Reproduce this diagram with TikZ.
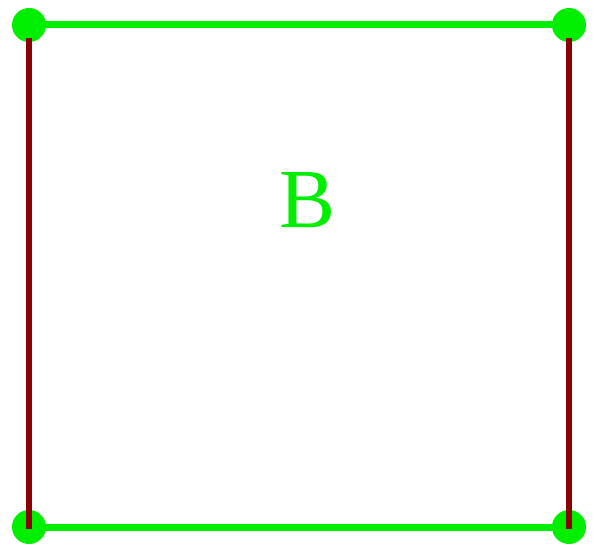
\documentclass[tikz,border=0pt]{standalone}
\usepackage{fontspec}
\setmainfont{Liberation Serif}
\usetikzlibrary{backgrounds}
\definecolor{lime}{RGB}{0,238,0}
\definecolor{darkred}{RGB}{139,0,0}
\begin{document}
\begin{tikzpicture}[x=1pt,y=1pt,
  edge/.style={draw=lime,line width=7pt},
  side/.style={draw=darkred,line width=6pt},
  dot/.style={circle,fill=lime,minimum size=34pt,inner sep=0pt}]
\useasboundingbox (0,0) rectangle (597,550);
\node[dot] (tl) at (29,525) {};
\node[dot] (tr) at (569,525) {};
\node[dot] (bl) at (29,23) {};
\node[dot] (br) at (569,23) {};
\begin{scope}[on background layer]
\draw[edge] (tl.center) -- (tr.center);
\draw[edge] (bl.center) -- (br.center);
\end{scope}
\coordinate (tlr) at (29,512);
\coordinate (trr) at (569,512);
\coordinate (blr) at (29,21);
\coordinate (brr) at (569,21);
\draw[side] (tlr) -- (blr);
\draw[side] (trr) -- (brr);
\node[text=lime,font=\fontsize{84}{90}\selectfont,inner sep=0pt] (B) at (308,350) {B};
\end{tikzpicture}
\end{document}
